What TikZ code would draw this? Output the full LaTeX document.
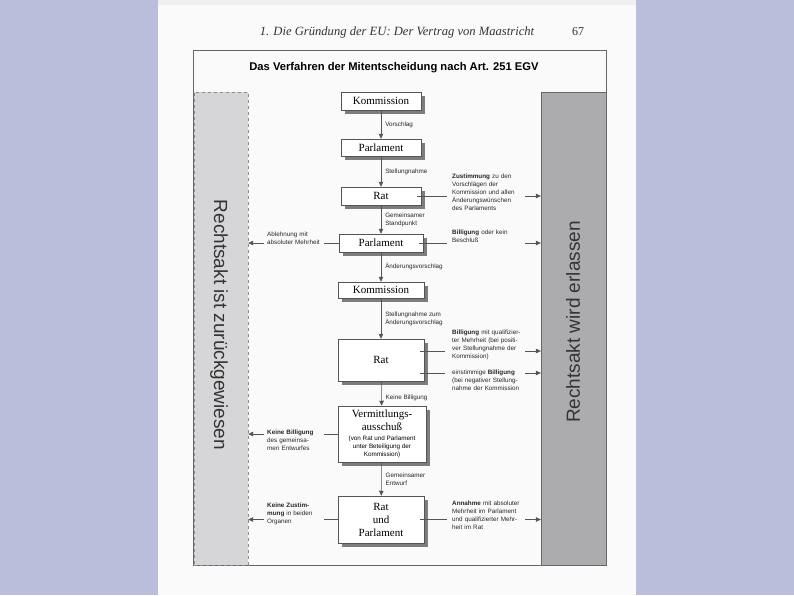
\documentclass[tikz,border=0pt]{standalone}
\usepackage{fontspec}
\setmainfont{Liberation Serif}
\setsansfont{Liberation Sans}
\usetikzlibrary{positioning,arrows.meta,shadows}
\definecolor{backc}{RGB}{186,190,218}
\definecolor{pagec}{RGB}{250,250,251}
\definecolor{leftc}{RGB}{214,214,216}
\definecolor{rightc}{RGB}{172,172,174}
\definecolor{shadc}{RGB}{125,125,125}
\definecolor{linec}{RGB}{85,85,85}
\newcommand{\smalltxt}{\sffamily\fontsize{6.3}{8}\selectfont}
\tikzset{
  organ/.style={draw=linec, fill=white, line width=0.5pt, align=center, inner sep=1pt, font=\fontsize{11}{13}\selectfont, drop shadow={shadow xshift=4pt, shadow yshift=-4pt, fill=shadc, opacity=1}},
  lbl/.style={font=\smalltxt, align=left, inner sep=1pt, text=black!85},
  rlbl/.style={lbl, anchor=west, text width=70pt},
  llbl/.style={lbl, anchor=west, text width=54pt},
  flow/.style={-{Triangle[length=5pt,width=4.5pt]}, linec, line width=0.5pt},
  link/.style={linec, line width=0.4pt},
  bar/.style={draw=black!45, dashed, line width=0.3pt, inner sep=0pt},
  bartxt/.style={font=\sffamily\fontsize{19}{20}\selectfont, text=black!80, inner sep=0pt}
}
\begin{document}
\begin{tikzpicture}[x=1pt, y=-1pt]
  \useasboundingbox (0,0) rectangle (794,595);
  \fill[backc] (0,0) rectangle (794,595);
  \fill[pagec] (158,0) rectangle (636,595);
  \fill[black!6] (158,0) rectangle (636,5);

  \node[font=\itshape\fontsize{12.6}{14}\selectfont, text=black!80] (kopf) at (397,32) {1. Die Gründung der EU: Der Vertrag von Maastricht};
  \node[font=\fontsize{12}{14}\selectfont, text=black!80] (seite) at (578,32) {67};
  \draw[black!60, line width=0.5pt] (193,50) rectangle (606,565);
  \node[font=\sffamily\bfseries\fontsize{11.2}{13}\selectfont] (titel) at (394,68) {Das Verfahren der Mitentscheidung nach Art. 251 EGV};

  \node[bar, fill=leftc, minimum width=54pt, minimum height=473pt] (zur) at (221,328.5) {};
  \node[bar, fill=rightc, draw=black!60, solid, minimum width=65pt, minimum height=473pt] (erl) at (573.5,328.5) {};
  \node[bartxt, rotate=-90] (zurtxt) at (219,325) {Rechtsakt ist zurückgewiesen};
  \node[bartxt, rotate=90] (erltxt) at (573,322) {Rechtsakt wird erlassen};

  \node[organ, minimum width=80pt, minimum height=18pt] (kom1) at (381,101) {Kommission};
  \node[organ, minimum width=80pt, minimum height=17pt] (parl1) at (381,147.5) {Parlament};
  \node[organ, minimum width=80pt, minimum height=18pt] (rat1) at (381,196) {Rat};
  \node[organ, minimum width=84pt, minimum height=18pt] (parl2) at (381,243) {Parlament};
  \node[organ, minimum width=86pt, minimum height=16pt] (kom2) at (381,290) {Kommission};
  \node[organ, minimum width=86pt, minimum height=42pt] (rat2) at (381,360) {Rat};
  \node[organ, minimum width=88pt, minimum height=56pt] (verm) at (382,434) {Vermittlungs-\\ausschuß\\[-3pt]{\smalltxt\begin{tabular}[t]{@{}c@{}}(von Rat und Parlament\\unter Beteiligung der\\Kommission)\end{tabular}}};
  \node[organ, minimum width=86pt, minimum height=47pt] (ratparl) at (381,519.5) {Rat\\und\\Parlament};

  \draw[flow] (kom1) -- node[lbl, right, xshift=3pt] {Vorschlag} (parl1);
  \draw[flow] (parl1) -- node[lbl, right, xshift=3pt] {Stellungnahme} (rat1);
  \draw[flow] (rat1) -- node[lbl, right, xshift=3pt] {Gemeinsamer\\Standpunkt} (parl2);
  \draw[flow] (parl2) -- node[lbl, right, xshift=3pt] {Änderungsvorschlag} (kom2);
  \draw[flow] (kom2) -- node[lbl, right, xshift=3pt] {Stellungnahme zum\\Änderungsvorschlag} (rat2);
  \draw[flow] (rat2) -- node[lbl, right, xshift=3pt, yshift=-4pt] {Keine Billigung} (verm);
  \draw[flow] (verm) -- node[lbl, right, xshift=3pt] {Gemeinsamer\\Entwurf} (ratparl);

  \node[rlbl] (zust) at (451,192) {\textbf{Zustimmung} zu den\\Vorschlägen der\\Kommission und allen\\Änderungswünschen\\des Parlaments};
  \node[rlbl] (billp) at (451,236) {\textbf{Billigung} oder kein\\Beschluß};
  \node[rlbl] (billq) at (451,345) {\textbf{Billigung} mit qualifizier-\\ter Mehrheit (bei positi-\\ver Stellungnahme der\\Kommission)};
  \node[rlbl] (einst) at (451,380) {einstimmige \textbf{Billigung}\\(bei negativer Stellung-\\nahme der Kommission};
  \node[rlbl] (annahme) at (451,515) {\textbf{Annahme} mit absoluter\\Mehrheit im Parlament\\und qualifizierter Mehr-\\heit im Rat};

  \node[llbl] (ablehn) at (266,238) {Ablehnung mit\\absoluter Mehrheit};
  \node[llbl] (keinbill) at (266,440) {\textbf{Keine Billigung}\\des gemeinsa-\\men Entwurfes};
  \node[llbl] (keinzust) at (266,514) {\textbf{Keine Zustim-}\\\textbf{mung} in beiden\\Organen};

  \coordinate (r2o) at ([yshift=9pt]rat2.east);
  \coordinate (r2u) at ([yshift=-13pt]rat2.east);

  \draw[link, shorten <=-4pt, shorten >=4pt] (rat1.east) -- (rat1.east -| zust.west);
  \draw[flow, shorten <=2pt] (zust.east |- rat1) -- (erl.west |- rat1);
  \draw[link, shorten <=-4pt, shorten >=4pt] (parl2.east) -- (parl2.east -| billp.west);
  \draw[flow, shorten <=2pt] (billp.east |- parl2) -- (erl.west |- parl2);
  \draw[link, shorten <=-4pt, shorten >=6pt] (r2o) -- (r2o -| billq.west);
  \draw[flow, shorten <=2pt] (billq.east |- r2o) -- (erl.west |- r2o);
  \draw[link, shorten <=-4pt, shorten >=6pt] (r2u) -- (r2u -| einst.west);
  \draw[flow, shorten <=2pt] (einst.east |- r2u) -- (erl.west |- r2u);
  \draw[link, shorten <=-4pt, shorten >=4pt] (ratparl.east) -- (ratparl.east -| annahme.west);
  \draw[flow, shorten <=2pt] (annahme.east |- ratparl) -- (erl.west |- ratparl);

  \draw[link, shorten >=2pt] (parl2.west) -- (parl2.west -| ablehn.east);
  \draw[flow, shorten <=2pt] (ablehn.west |- parl2) -- (zur.east |- parl2);
  \draw[link, shorten >=2pt] (verm.west) -- (verm.west -| keinbill.east);
  \draw[flow, shorten <=2pt] (keinbill.west |- verm) -- (zur.east |- verm);
  \draw[link, shorten >=2pt] (ratparl.west) -- (ratparl.west -| keinzust.east);
  \draw[flow, shorten <=2pt] (keinzust.west |- ratparl) -- (zur.east |- ratparl);
\end{tikzpicture}
\end{document}
